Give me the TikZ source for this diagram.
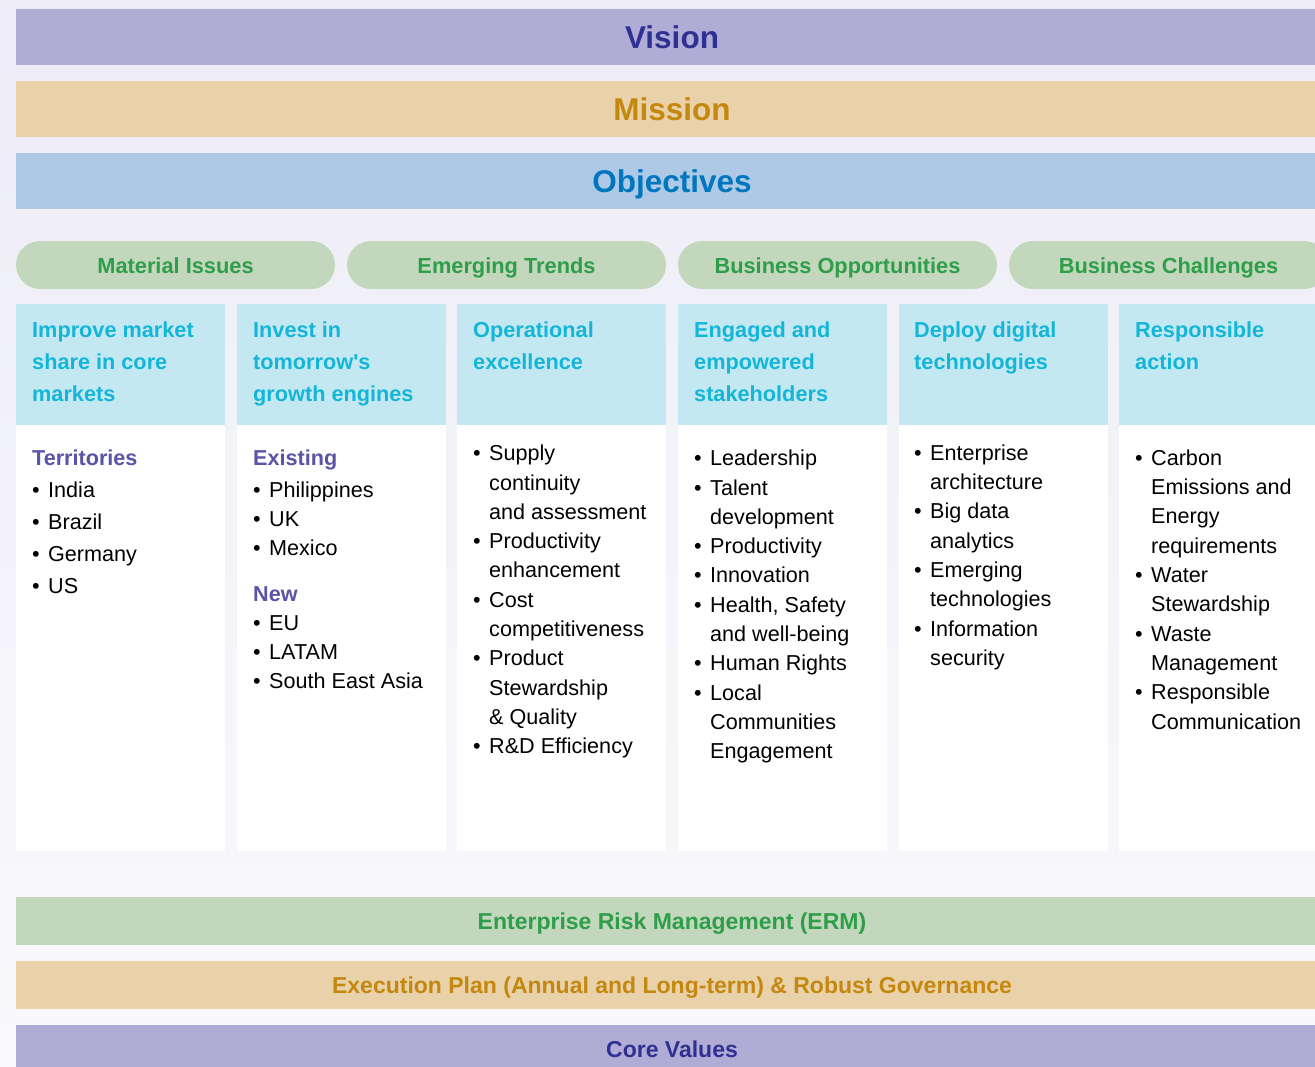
\documentclass[tikz,border=0pt]{standalone}
\usepackage{fontspec}
\setmainfont{Liberation Sans}
\definecolor{bgtop}{RGB}{237,236,247}
\definecolor{bgbot}{RGB}{250,250,252}
\definecolor{vfill}{RGB}{176,172,214}
\definecolor{vtext}{RGB}{46,49,146}
\definecolor{mfill}{RGB}{233,209,169}
\definecolor{mtext}{RGB}{196,136,15}
\definecolor{ofill}{RGB}{173,201,230}
\definecolor{otext}{RGB}{0,118,190}
\definecolor{gfill}{RGB}{195,215,189}
\definecolor{gtext}{RGB}{46,158,74}
\definecolor{hfill}{RGB}{195,232,241}
\definecolor{htext}{RGB}{20,182,216}
\definecolor{stext}{RGB}{90,84,168}
\newcommand\blt[1]{\makebox[16pt][l]{•}#1}
\newcommand\ctn[1]{\hspace*{16pt}#1}
\newcommand\subh[1]{{\bfseries\color{stext}#1}}
\newcommand\txtlines[6]{\foreach \t [count=\i] in {#6}{\node[#2] (#1-\i) at (#3,{#4+(\i-1)*#5}) {\t};}}
\begin{document}
\begin{tikzpicture}[x=1pt,y=-1pt,
  band/.style={minimum width=1312pt, minimum height=56pt, inner sep=0pt, text depth=0pt},
  bigtxt/.style={font=\bfseries\fontsize{31.5}{36}\selectfont, text height=22.6pt},
  lowband/.style={minimum width=1312pt, minimum height=48pt, inner sep=0pt, text depth=0pt,
    font=\bfseries\fontsize{23}{27}\selectfont, text height=16.4pt},
  pill/.style={minimum width=319pt, minimum height=48pt, rounded corners=24pt, fill=gfill,
    text=gtext, inner sep=0pt, font=\bfseries\fontsize{21.8}{26}\selectfont,
    text height=16pt, text depth=0pt},
  hbox/.style={anchor=north west, minimum width=209pt, minimum height=121pt, fill=hfill, inner sep=0pt},
  bbox/.style={anchor=north west, minimum width=209pt, minimum height=426pt, fill=white, inner sep=0pt},
  htxt/.style={anchor=base west, inner sep=0pt, text=htext, font=\bfseries\fontsize{21.7}{26}\selectfont},
  item/.style={anchor=base west, inner sep=0pt, text=black, font=\fontsize{21.6}{26}\selectfont}]
\useasboundingbox (0,0) rectangle (1315,1066);
\clip (0,0) rectangle (1315,1066);
\shade[top color=bgtop, bottom color=bgbot] (0,0) rectangle (1315,1066);

% top bands
\node[band, bigtxt, fill=vfill, text=vtext] (vision) at (672,37) {Vision};
\node[band, bigtxt, fill=mfill, text=mtext] (mission) at (672,109) {Mission};
\node[band, bigtxt, fill=ofill, text=otext] (objectives) at (672,181) {Objectives};

% pills
\node[pill] (p1) at (175.5,265) {Material Issues};
\node[pill] (p2) at (506.5,265) {Emerging Trends};
\node[pill] (p3) at (837.5,265) {Business Opportunities};
\node[pill] (p4) at (1168.5,265) {Business Challenges};

% columns
\foreach \c [count=\k] in {16,236.6,457.2,677.8,898.4,1119}{
  \node[hbox] (hb\k) at (\c,304) {};
  \node[bbox] (bb\k) at (\c,425) {};
}

% header texts
\txtlines{h1}{htxt}{32}{337.5}{32}{Improve market, share in core, markets}
\txtlines{h2}{htxt}{253}{337.5}{32}{Invest in, tomorrow\textquotesingle s, growth engines}
\txtlines{h3}{htxt}{473}{337.5}{32}{Operational, excellence}
\txtlines{h4}{htxt}{694}{337.5}{32}{Engaged and, empowered, stakeholders}
\txtlines{h5}{htxt}{914}{337.5}{32}{Deploy digital, technologies}
\txtlines{h6}{htxt}{1135}{337.5}{32}{Responsible, action}

% body texts
\txtlines{c1}{item}{32}{465}{32}{\subh{Territories}, \blt{India}, \blt{Brazil}, \blt{Germany}, \blt{US}}
\txtlines{c2h}{item}{253}{465}{32}{\subh{Existing}}
\txtlines{c2a}{item}{253}{497}{29.3}{\blt{Philippines}, \blt{UK}, \blt{Mexico}}
\txtlines{c2n}{item}{253}{601}{32}{\subh{New}}
\txtlines{c2b}{item}{253}{630}{29.3}{\blt{EU}, \blt{LATAM}, \blt{South East Asia}}
\txtlines{c3}{item}{473}{460.7}{29.3}{\blt{Supply}, \ctn{continuity}, \ctn{and assessment}, \blt{Productivity}, \ctn{enhancement}, \blt{Cost}, \ctn{competitiveness}, \blt{Product}, \ctn{Stewardship}, \ctn{\& Quality}, \blt{R\&D Efficiency}}
\txtlines{c4}{item}{694}{465.7}{29.3}{\blt{Leadership}, \blt{Talent}, \ctn{development}, \blt{Productivity}, \blt{Innovation}, \blt{Health, Safety}, \ctn{and well-being}, \blt{Human Rights}, \blt{Local}, \ctn{Communities}, \ctn{Engagement}}
\txtlines{c5}{item}{914}{460.3}{29.3}{\blt{Enterprise}, \ctn{architecture}, \blt{Big data}, \ctn{analytics}, \blt{Emerging}, \ctn{technologies}, \blt{Information}, \ctn{security}}
\txtlines{c6}{item}{1135}{465.3}{29.3}{\blt{Carbon}, \ctn{Emissions and}, \ctn{Energy}, \ctn{requirements}, \blt{Water}, \ctn{Stewardship}, \blt{Waste}, \ctn{Management}, \blt{Responsible}, \ctn{Communication}}

% bottom bands
\node[lowband, fill=gfill, text=gtext] (erm) at (672,921) {Enterprise Risk Management (ERM)};
\node[lowband, fill=mfill, text=mtext] (exec) at (672,985) {Execution Plan (Annual and Long-term) \& Robust Governance};
\node[lowband, fill=vfill, text=vtext] (core) at (672,1049) {Core Values};
\end{tikzpicture}
\end{document}
